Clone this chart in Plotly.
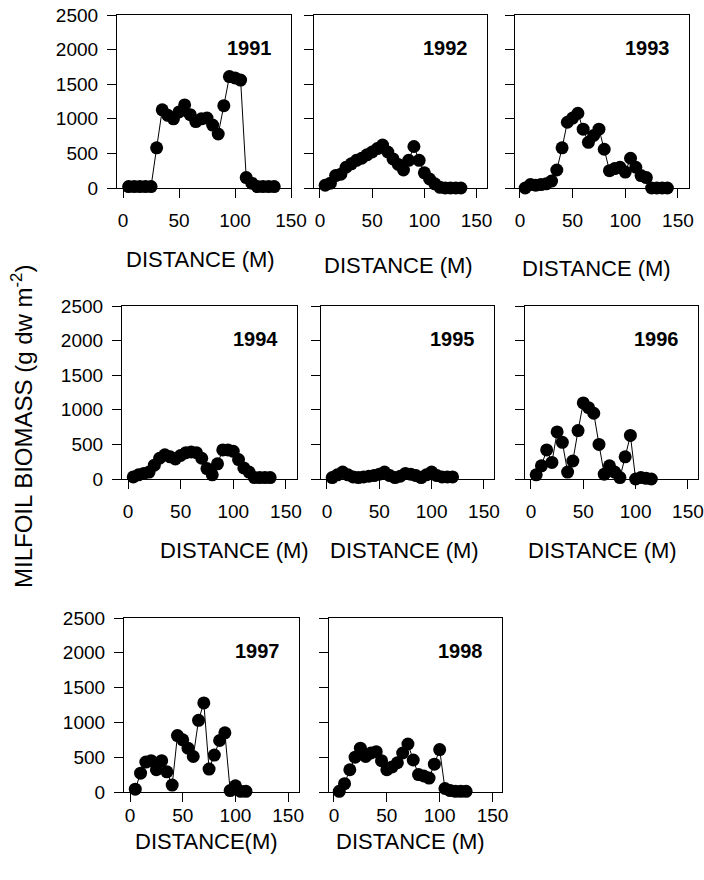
import plotly.graph_objects as go

W, H = 704, 880

years = ["1991", "1992", "1993", "1994", "1995", "1996", "1997", "1998"]

d1991 = [5, 10, 15, 20, 25, 30, 35, 40, 45, 50, 55, 60, 65, 70, 75, 80, 85, 90, 95, 100, 105, 110, 115, 120, 125, 130, 135]
b1991 = [20, 20, 20, 20, 20, 580, 1130, 1050, 1000, 1100, 1200, 1060, 960, 1000, 1010, 910, 780, 1190, 1610, 1590, 1560, 150, 70, 20, 20, 20, 20]

d1992 = [5, 10, 15, 20, 25, 30, 35, 40, 45, 50, 55, 60, 65, 70, 75, 80, 85, 90, 95, 100, 105, 110, 115, 120, 125, 130, 135]
b1992 = [40, 70, 180, 200, 300, 350, 400, 430, 480, 520, 570, 620, 520, 420, 340, 260, 400, 600, 400, 220, 130, 60, 10, 0, 0, 0, 0]

d1993 = [5, 10, 15, 20, 25, 30, 35, 40, 45, 50, 55, 60, 65, 70, 75, 80, 85, 90, 95, 100, 105, 110, 115, 120, 125, 130, 135, 140]
b1993 = [0, 50, 40, 50, 60, 100, 260, 580, 950, 1010, 1080, 850, 660, 760, 850, 560, 250, 280, 300, 230, 430, 300, 180, 150, 0, 0, 0, 0]

d1994 = [5, 10, 15, 20, 25, 30, 35, 40, 45, 50, 55, 60, 65, 70, 75, 80, 85, 90, 95, 100, 105, 110, 115, 120, 125, 130, 135]
b1994 = [30, 60, 80, 100, 200, 300, 350, 320, 290, 340, 380, 390, 380, 300, 150, 60, 220, 420, 420, 400, 280, 160, 100, 20, 20, 20, 20]

d1995 = [5, 10, 15, 20, 25, 30, 35, 40, 45, 50, 55, 60, 65, 70, 75, 80, 85, 90, 95, 100, 105, 110, 115, 120]
b1995 = [20, 60, 100, 60, 30, 20, 30, 40, 50, 70, 100, 50, 20, 40, 80, 70, 50, 20, 60, 100, 50, 30, 30, 30]

d1996 = [5, 10, 15, 20, 25, 30, 35, 40, 45, 50, 55, 60, 65, 70, 75, 80, 85, 90, 95, 100, 105, 110, 115]
b1996 = [60, 190, 420, 240, 680, 530, 100, 260, 700, 1100, 1030, 950, 500, 70, 190, 100, 20, 320, 630, 0, 20, 10, 0]

d1997 = [5, 10, 15, 20, 25, 30, 35, 40, 45, 50, 55, 60, 65, 70, 75, 80, 85, 90, 95, 100, 105, 110]
b1997 = [40, 270, 430, 450, 320, 450, 290, 100, 810, 750, 630, 510, 1030, 1280, 330, 530, 740, 850, 20, 90, 10, 10]

d1998 = [5, 10, 15, 20, 25, 30, 35, 40, 45, 50, 55, 60, 65, 70, 75, 80, 85, 90, 95, 100, 105, 110, 115, 120, 125]
b1998 = [10, 120, 320, 500, 630, 510, 560, 580, 450, 320, 360, 420, 560, 690, 460, 250, 230, 200, 400, 610, 50, 20, 10, 10, 10]

distances = [d1991, d1992, d1993, d1994, d1995, d1996, d1997, d1998]
biomass = [b1991, b1992, b1993, b1994, b1995, b1996, b1997, b1998]

y_ticks = [0, 500, 1000, 1500, 2000, 2500]
x_ticks = [0, 50, 100, 150]
x_titles = ["DISTANCE (M)"] * 6 + ["DISTANCE(M)", "DISTANCE (M)"]
y_title = "MILFOIL BIOMASS (g dw m<sup>-2</sup>)"

# panel boxes in pixels: left, right, top, bottom(zero line)
boxes = [
    (117, 291, 15, 188), (314, 487, 15, 188), (515, 689, 15, 188),
    (122, 297, 306, 479), (321, 494, 306, 479), (525, 698, 306, 479),
    (124, 299, 618, 792), (329, 502, 618, 792),
]
xranges = [[-5.4, 150], [-5.7, 160], [-4.7, 160.5],
           [-5.7, 160.5], [-5.7, 159.6], [-5.7, 159.6],
           [-5.7, 160.3], [-4.7, 159]]
show_ylabels = [True, False, False, True, False, False, True, False]
label_standoff = [6, 6, 6, 6, 6, 6, -3, -3]

FONT = "Liberation Sans, Arial, sans-serif"
TICK_SIZE = 19

fig = go.Figure()
layout = dict(
    width=W, height=H,
    margin=dict(l=0, r=0, t=0, b=0, autoexpand=False),
    paper_bgcolor="white", plot_bgcolor="white",
    showlegend=False,
    font=dict(family=FONT, color="black", size=TICK_SIZE),
)
annotations = []

for i, (yr, xs, ys) in enumerate(zip(years, distances, biomass)):
    n = i + 1
    xa = "x" if n == 1 else f"x{n}"
    ya = "y" if n == 1 else f"y{n}"
    fig.add_trace(go.Scatter(
        x=xs, y=ys, xaxis=xa, yaxis=ya, mode="lines+markers",
        line=dict(color="black", width=1),
        marker=dict(color="black", size=13),
        cliponaxis=False, name=yr,
    ))
    l, r, t, b = boxes[i]
    layout[f"xaxis{n if n > 1 else ''}"] = dict(
        domain=[l / W, r / W], range=xranges[i], anchor=ya,
        tickvals=x_ticks, ticks="outside", ticklen=9, tickwidth=1,
        tickcolor="black", showline=True, linecolor="black", linewidth=1.2,
        mirror=True, showgrid=False, zeroline=False, automargin=False,
        tickfont=dict(size=TICK_SIZE, family=FONT),
        ticklabelstandoff=label_standoff[i],
    )
    layout[f"yaxis{n if n > 1 else ''}"] = dict(
        domain=[1 - b / H, 1 - t / H], range=[0, 2500], anchor=xa,
        tickvals=y_ticks, ticks="outside", ticklen=9, tickwidth=1,
        tickcolor="black", showline=True, linecolor="black", linewidth=1.2,
        mirror=True, showgrid=False, zeroline=False, automargin=False,
        showticklabels=show_ylabels[i],
        tickfont=dict(size=TICK_SIZE, family=FONT),
        ticklabelstandoff=5,
    )
    # year label
    annotations.append(dict(
        text=f"<b>{yr}</b>", xref="paper", yref="paper",
        x=(r - 17) / W, y=1 - (t + 33) / H, xanchor="right", yanchor="middle",
        showarrow=False, font=dict(size=20, family=FONT, color="black"),
    ))

title_pos = [(200, 260), (398, 265), (596, 268),
             (234, 550), (404, 550), (602, 550),
             (207, 841), (410, 841)]
for (cx, cy), txt in zip(title_pos, x_titles):
    annotations.append(dict(
        text=txt, xref="paper", yref="paper", x=cx / W, y=1 - cy / H,
        xanchor="center", yanchor="middle", showarrow=False,
        font=dict(size=22, family=FONT, color="black"),
    ))

annotations.append(dict(
    text=y_title, xref="paper", yref="paper", x=22 / W, y=1 - 427 / H,
    xanchor="center", yanchor="middle", textangle=-90, showarrow=False,
    font=dict(size=24, family=FONT, color="black"),
))

layout["annotations"] = annotations
fig.update_layout(**layout)
fig.write_html("out.html")
